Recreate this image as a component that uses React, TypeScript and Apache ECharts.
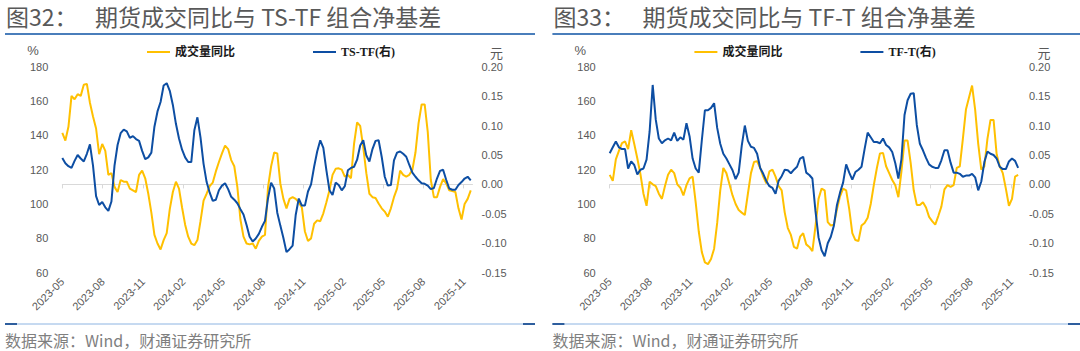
import React, { useEffect, useRef } from "react";
import * as echarts from "echarts";

// Weekly observation dates (shared by both panels)
const DATES = [
  "2023-05-01","2023-05-08","2023-05-15","2023-05-22","2023-05-29","2023-06-05","2023-06-12","2023-06-19","2023-06-26","2023-07-03",
  "2023-07-10","2023-07-17","2023-07-24","2023-07-31","2023-08-07","2023-08-14","2023-08-21","2023-08-28","2023-09-04","2023-09-11",
  "2023-09-18","2023-09-25","2023-10-02","2023-10-09","2023-10-16","2023-10-23","2023-10-30","2023-11-06","2023-11-13","2023-11-20",
  "2023-11-27","2023-12-04","2023-12-11","2023-12-18","2023-12-25","2024-01-01","2024-01-08","2024-01-15","2024-01-22","2024-01-29",
  "2024-02-05","2024-02-12","2024-02-19","2024-02-26","2024-03-04","2024-03-11","2024-03-18","2024-03-25","2024-04-01","2024-04-08",
  "2024-04-15","2024-04-22","2024-04-29","2024-05-06","2024-05-13","2024-05-20","2024-05-27","2024-06-03","2024-06-10","2024-06-17",
  "2024-06-24","2024-07-01","2024-07-08","2024-07-15","2024-07-22","2024-07-29","2024-08-05","2024-08-12","2024-08-19","2024-08-26",
  "2024-09-02","2024-09-09","2024-09-16","2024-09-23","2024-09-30","2024-10-07","2024-10-14","2024-10-21","2024-10-28","2024-11-04",
  "2024-11-11","2024-11-18","2024-11-25","2024-12-02","2024-12-09","2024-12-16","2024-12-23","2024-12-30","2025-01-06","2025-01-13",
  "2025-01-20","2025-01-27","2025-02-03","2025-02-10","2025-02-17","2025-02-24","2025-03-03","2025-03-10","2025-03-17","2025-03-24",
  "2025-03-31","2025-04-07","2025-04-14","2025-04-21","2025-04-28","2025-05-05","2025-05-12","2025-05-19","2025-05-26","2025-06-02",
  "2025-06-09","2025-06-16","2025-06-23","2025-06-30","2025-07-07","2025-07-14","2025-07-21","2025-07-28","2025-08-04","2025-08-11",
  "2025-08-18","2025-08-25","2025-09-01","2025-09-08","2025-09-15","2025-09-22","2025-09-29","2025-10-06","2025-10-13","2025-10-20",
  "2025-10-27","2025-11-03","2025-11-10","2025-11-17"
];

// 图32: 成交量同比 (%, left axis)
const VOLUME_YOY_32 = [
  141.5,137,145,163,161,164,163,169.5,170,159,
  151,144,129,135,131,117,118,110,107,114,
  113,113,109,108,107,117,119.5,115,106,95,
  82,77,73.5,79,83,97,107,113,109,98,
  88,81,77,76,79,90,102,106,110.5,112.5,
  119,124.5,129.5,134,132,125.6,122,110,91,81,
  77,76.5,77,74,78.5,81,82,110,122,130,
  129.5,112,103,97.5,103,104,103,101,98,84,
  78.5,80,88.5,90.5,90,94.6,101,108,117,120.5,
  120.8,120,116,117,115,135,147.5,145.5,133,118,
  106,104,103.5,100.3,97.5,95.6,92.6,97.5,104,109,
  119.5,117,116,117,120,130,147,158,158,142,
  114,104,104,110,114.5,112,108,107.5,107,97.5,
  91,100,103,108
];

// 图32: TS-TF 组合净基差 (元, right axis)
const TS_TF_BASIS = [
  0.045,0.036,0.031,0.028,0.040,0.050,0.044,0.039,0.052,0.068,
  0.032,-0.020,-0.035,-0.030,-0.039,-0.045,-0.029,0.032,0.067,0.087,
  0.093,0.090,0.079,0.082,0.077,0.074,0.057,0.043,0.046,0.054,
  0.098,0.124,0.140,0.168,0.172,0.159,0.135,0.103,0.078,0.059,
  0.046,0.038,0.038,0.092,0.114,0.080,0.035,0.004,-0.014,-0.028,
  -0.026,-0.010,-0.002,0.002,-0.008,-0.021,-0.026,-0.032,-0.042,-0.051,
  -0.069,-0.089,-0.097,-0.092,-0.084,-0.072,-0.062,-0.023,0.003,-0.007,
  -0.048,-0.070,-0.091,-0.115,-0.110,-0.104,-0.052,-0.024,-0.036,-0.036,
  -0.012,0.000,0.030,0.056,0.075,0.062,0.024,-0.010,-0.018,0.003,
  -0.001,-0.010,-0.003,0.024,0.028,0.030,0.042,0.066,0.075,0.049,
  0.039,0.060,0.074,0.075,0.047,0.013,-0.002,-0.001,0.041,0.054,
  0.056,0.052,0.047,0.033,0.020,0.013,0.007,0.002,0.001,-0.002,
  -0.008,-0.006,0.010,0.023,0.025,0.008,-0.007,-0.009,-0.009,-0.001,
  0.004,0.010,0.013,0.007
];

// 图33: 成交量同比 (%, left axis)
const VOLUME_YOY_33 = [
  117,113.5,126,131,135.5,136.5,132,143,135,126.5,
  117.5,106,99,113,111.5,110.5,106,103,110.5,117,
  120,118,111.5,109.5,105,111,115,116,101,84,
  72,66,65,68,74,89,108,121,118,111.5,
  105,100,96.5,95,93.6,106,118,124.5,125,121,
  116,112,119,120,116,110.5,108,95,86,82,
  75,74,81,83,76.5,75,72.5,87,103,109,
  108,89.5,87.5,88,97,104.5,109,108,97,83,
  79,78.5,87.5,89,92,100,111,121,129.5,129.8,
  122,118,114,111,104,119,137,137,124,108,
  99.5,99.4,101,98,92.5,90,88,93,98.5,108.5,
  111,110,111,121,122,138,155,162,169,155,
  135,120,122,138,149,149,129,122,118,109,
  99,103,116,117
];

// 图33: TF-T 组合净基差 (元, right axis)
const TF_T_BASIS = [
  0.053,0.063,0.073,0.063,0.060,0.060,0.027,0.039,0.033,0.017,
  0.025,0.027,0.042,0.090,0.169,0.110,0.078,0.070,0.075,0.078,
  0.075,0.088,0.074,0.080,0.076,0.104,0.082,0.044,0.027,0.020,
  0.075,0.126,0.126,0.130,0.138,0.096,0.069,0.052,0.044,0.034,
  0.024,0.009,0.020,0.066,0.100,0.074,0.064,0.062,0.052,0.028,
  0.018,0.006,-0.003,-0.006,-0.016,0.006,0.014,0.025,0.024,0.019,
  0.025,0.030,0.044,0.047,0.020,0.016,0.010,-0.045,-0.090,-0.112,
  -0.122,-0.100,-0.089,-0.070,-0.035,-0.014,0.003,0.034,0.020,0.008,
  0.021,0.025,0.030,0.060,0.088,0.080,0.072,0.072,0.070,0.078,
  0.067,0.063,0.055,0.036,0.010,0.043,0.118,0.143,0.154,0.155,
  0.101,0.069,0.058,0.045,0.034,0.030,0.028,0.028,0.041,0.058,
  0.058,0.037,0.020,0.020,0.018,0.013,0.015,0.015,0.018,0.012,
  -0.010,0.005,0.038,0.056,0.052,0.050,0.044,0.030,0.026,0.026,
  0.039,0.044,0.040,0.028
];

const X_TICK_MONTHS = [
  "2023-05","2023-08","2023-11","2024-02","2024-05","2024-08",
  "2024-11","2025-02","2025-05","2025-08","2025-11"
];
const X_MIN = "2023-05-01";
const X_MAX = "2025-11-21";

const LEFT_MIN = 60, LEFT_MAX = 180, LEFT_STEP = 20;
const RIGHT_MIN = -0.15, RIGHT_MAX = 0.2, RIGHT_STEP = 0.05;

const VOL_NAME = "成交量同比";
const PANELS = [
  { fig: "图32：", title: "期货成交同比与 TS-TF 组合净基差", basisName: "TS-TF(右)", vol: VOLUME_YOY_32, basis: TS_TF_BASIS },
  { fig: "图33：", title: "期货成交同比与 TF-T 组合净基差", basisName: "TF-T(右)", vol: VOLUME_YOY_33, basis: TF_T_BASIS },
];
const SOURCE = "数据来源：Wind，财通证券研究所";

const YELLOW = "#FFC000";
const BLUE = "#0D4EA3";
const GREY = "#595959";
const SANS = "'Liberation Sans', Arial, 'Noto Sans CJK SC', sans-serif";
const CJK = "'Noto Sans CJK SC', 'Liberation Sans', sans-serif";
const SERIF = "'Liberation Serif', 'Noto Sans CJK SC', serif";

const toTs = (d: string) => Date.parse((d.length === 7 ? d + "-01" : d) + "T00:00:00Z");
const fmtMonth = (v: number) => {
  const d = new Date(v);
  return d.getUTCFullYear() + "-" + String(d.getUTCMonth() + 1).padStart(2, "0");
};

export default function App() {
  const ref = useRef<HTMLDivElement>(null);

  useEffect(() => {
    document.body.style.margin = "0";
    if (!ref.current) return;
    const chart = echarts.init(ref.current, undefined, { renderer: "svg", width: 1080, height: 351 });

    const tickValues = X_TICK_MONTHS.map(toTs);
    const grids: any[] = [];
    const xAxes: any[] = [];
    const yAxes: any[] = [];
    const series: any[] = [];
    const legends: any[] = [];
    const graphics: any[] = [];

    PANELS.forEach((p, i) => {
      const ox = i * 547.4;
      grids.push({ left: 62.3 + ox, top: 66.7, width: 410.2, height: 206, outerBoundsMode: "none" });
      xAxes.push({
        type: "value",
        gridIndex: i,
        min: toTs(X_MIN),
        max: toTs(X_MAX),
        splitLine: { show: false },
        axisLine: { show: true, lineStyle: { color: "#D9D9D9", width: 1 } },
        axisTick: { show: true, customValues: tickValues, length: 4, lineStyle: { color: "#D9D9D9" } },
        axisLabel: {
          customValues: tickValues,
          formatter: (v: number) => fmtMonth(v),
          rotate: 45,
          margin: 7,
          fontSize: 11,
          color: GREY,
          fontFamily: SANS,
        },
      });
      yAxes.push({
        type: "value",
        gridIndex: i,
        position: "left",
        min: LEFT_MIN,
        max: LEFT_MAX,
        interval: LEFT_STEP,
        splitLine: { show: false },
        axisLine: { show: false },
        axisTick: { show: false },
        axisLabel: { margin: 14, fontSize: 11, color: GREY, fontFamily: SANS },
      });
      yAxes.push({
        type: "value",
        gridIndex: i,
        position: "right",
        min: RIGHT_MIN,
        max: RIGHT_MAX,
        interval: RIGHT_STEP,
        splitLine: { show: false },
        axisLine: { show: false },
        axisTick: { show: false },
        axisLabel: {
          margin: 9,
          fontSize: 11,
          color: GREY,
          fontFamily: SANS,
          formatter: (v: number) => v.toFixed(2),
        },
      });
      series.push({
        name: VOL_NAME,
        type: "line",
        xAxisIndex: i,
        yAxisIndex: i * 2,
        showSymbol: false,
        symbol: "none",
        lineStyle: { color: YELLOW, width: 2 },
        itemStyle: { color: YELLOW },
        data: DATES.map((d, k) => [toTs(d), p.vol[k]]),
      });
      series.push({
        name: p.basisName,
        type: "line",
        xAxisIndex: i,
        yAxisIndex: i * 2 + 1,
        showSymbol: false,
        symbol: "none",
        lineStyle: { color: BLUE, width: 2 },
        itemStyle: { color: BLUE },
        data: DATES.map((d, k) => [toTs(d), p.basis[k]]),
      });
      const legendBase = {
        top: 46,
        padding: 0,
        itemWidth: 23,
        itemHeight: 2,
        icon: "rect",
        selectedMode: false,
        textStyle: { fontFamily: SERIF, fontWeight: "bold", fontSize: 12, color: "#1A1A1A" },
      };
      legends.push({ ...legendBase, left: 147 + ox, data: [VOL_NAME] });
      legends.push({ ...legendBase, left: 313 + ox, data: [p.basisName] });

      // Title, separators, units, source
      graphics.push(
        { type: "text", x: 6 + ox, y: 16, style: { text: p.fig, font: `23px ${CJK}`, fill: GREY, verticalAlign: "middle" } },
        { type: "text", x: 95 + ox, y: 16, style: { text: p.title, font: `23px ${CJK}`, fill: GREY, verticalAlign: "middle" } },
        { type: "line", shape: { x1: 5 + ox, y1: 34, x2: Math.min(535 + ox, 1080), y2: 34 }, style: { stroke: "#4A7EBB", lineWidth: 2 } },
        { type: "text", x: 33 + ox, y: 50, style: { text: "%", font: `13px ${SANS}`, fill: GREY, align: "center", verticalAlign: "middle" } },
        { type: "text", x: 490 + ox, y: 52, style: { text: "元", font: `13px ${CJK}`, fill: GREY, verticalAlign: "middle" } },
        { type: "line", shape: { x1: 5 + ox, y1: 324, x2: Math.min(535 + ox, 1080), y2: 324 }, style: { stroke: "#8DB4E2", lineWidth: 1 } },
        { type: "rect", shape: { x: 5 + ox, y: 323, width: 12, height: 2 }, style: { fill: "#2E5E9E" } },
        { type: "rect", shape: { x: Math.min(523 + ox, 1068), y: 323, width: 12, height: 2 }, style: { fill: "#2E5E9E" } },
        { type: "text", x: 5 + ox, y: 340, style: { text: SOURCE, font: `16px ${CJK}`, lineHeight: 16, fill: "#7F7F7F", verticalAlign: "middle" } }
      );
    });

    chart.setOption({
      animation: false,
      backgroundColor: "#FFFFFF",
      grid: grids,
      xAxis: xAxes,
      yAxis: yAxes,
      legend: legends,
      series,
      graphic: graphics,
    });

    return () => chart.dispose();
  }, []);

  return <div ref={ref} style={{ width: 1080, height: 351 }} />;
}
